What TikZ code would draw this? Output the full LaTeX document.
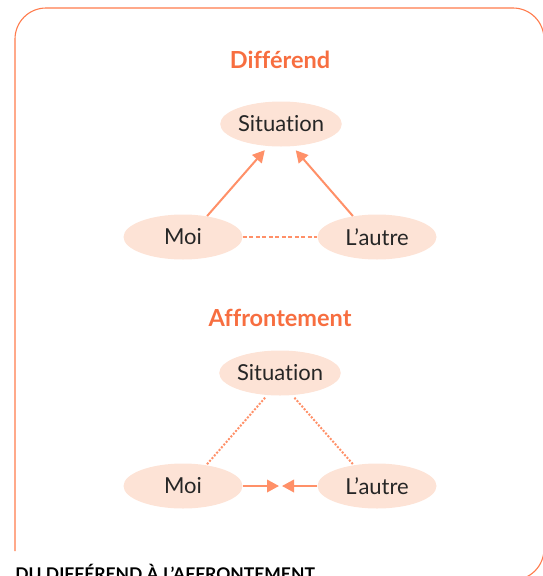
\documentclass[tikz,border=0pt]{standalone}
\usepackage{fontspec}
\setmainfont{Lato}[Ligatures=NoCommon]
\usetikzlibrary{arrows.meta,shapes.geometric}
\definecolor{titleorange}{HTML}{F76E40}
\definecolor{lineorange}{HTML}{FF9068}
\definecolor{frameorange}{HTML}{FF7B4C}
\definecolor{blobfill}{HTML}{FDE3D6}

\begin{document}
\begin{tikzpicture}[x=1pt,y=-1pt,thick,
	main node/.style={ellipse,fill=blobfill,minimum width=119pt,minimum height=45pt,inner sep=0pt,font=\fontsize{22}{24}\selectfont,text=black!85},
	title node/.style={font=\bfseries\fontsize{23.5}{26}\selectfont,text=titleorange},
	link/.style={draw=lineorange,line width=2pt,-{Triangle[length=12pt,width=12.5pt]}},
	loose link/.style={draw=lineorange,line width=1.5pt,dash pattern=on 4pt off 2.5pt},
	dotted link/.style={draw=lineorange,line width=2pt,dash pattern=on 2pt off 1.6pt}]
		\useasboundingbox (0,0) rectangle (543,576);
		\clip (0,0) rectangle (543,576);
		% frame
		\draw[frameorange,line width=1.1pt,rounded corners=31pt] (15,551) -- (15,8) -- (544,8) -- (544,580) -- (420,580);
		% first diagram
		\node[title node] (t1) at (280,60) {Différend};
		\node[main node] (s1) at (281,124) {Situation};
		\node[main node] (m1) at (183,237) {Moi};
		\node[main node] (a1) at (377,237) {L’autre};
		\path (m1.41) edge[link,shorten >=5pt] (s1.240)
		(a1.139) edge[link,shorten >=5pt] (s1.297)
		(m1) edge[loose link] (a1);
		% second diagram
		\node[title node] (t2) at (280,318) {Affrontement};
		\node[main node] (s2) at (280,373) {Situation};
		\node[main node] (m2) at (183,486) {Moi};
		\node[main node] (a2) at (377,486) {L’autre};
		\coordinate (meet) at (280.5,486);
		\path (s2.240) edge[dotted link,shorten <=3pt] (m2.42)
		(s2.299) edge[dotted link,shorten <=3pt] (a2.138)
		(m2) edge[link,shorten >=1.5pt] (meet)
		(a2) edge[link,shorten >=1.5pt] (meet);
		% caption
		\node[anchor=north west,inner sep=0pt,font=\bfseries\fontsize{17.5}{19}\selectfont] (cap) at (15,564) {DU DIFFÉREND À L’AFFRONTEMENT};
\end{tikzpicture}
\end{document}
